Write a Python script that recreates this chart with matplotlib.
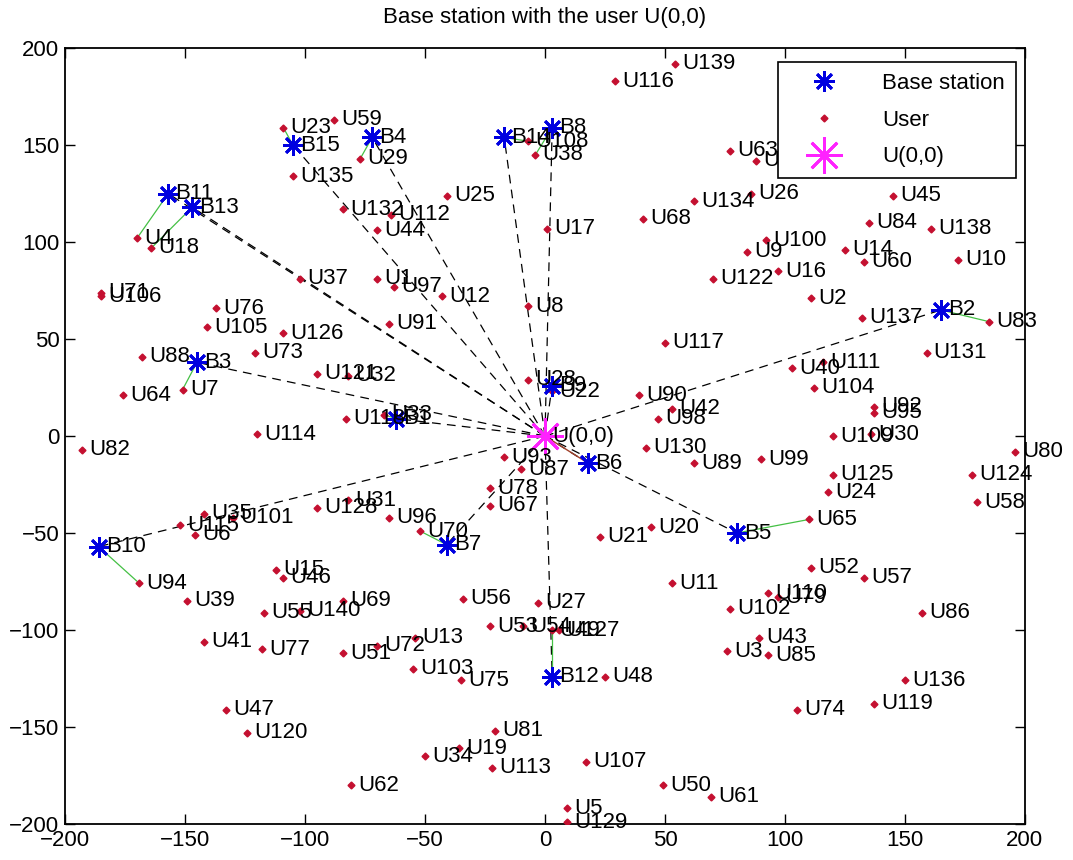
import matplotlib
matplotlib.use('Agg')
import matplotlib.pyplot as plt

plt.rcParams['font.family'] = ['Liberation Sans', 'DejaVu Sans']

# user positions
user_names = ['U139', 'U116', 'U38', 'U108', 'U59', 'U23', 'U29', 'U135', 'U25', 'U132',
              'U112', 'U44', 'U37', 'U1', 'U97', 'U12', 'U17', 'U8', 'U91', 'U126',
              'U73', 'U76', 'U105', 'U88', 'U7', 'U64', 'U82', 'U114', 'U35', 'U115',
              'U6', 'U101', 'U94', 'U39', 'U41', 'U77', 'U55', 'U140', 'U47', 'U120',
              'U15', 'U46', 'U69', 'U51', 'U72', 'U13', 'U103', 'U75', 'U56', 'U27',
              'U53', 'U54', 'U49', 'U127', 'U48', 'U11', 'U102', 'U110', 'U79', 'U43',
              'U3', 'U85', 'U74', 'U107', 'U50', 'U61', 'U5', 'U129', 'U81', 'U19',
              'U34', 'U113', 'U62', 'U52', 'U57', 'U86', 'U136', 'U119', 'U65', 'U21',
              'U20', 'U130', 'U89', 'U99', 'U117', 'U90', 'U42', 'U98', 'U137', 'U83',
              'U131', 'U40', 'U111', 'U104', 'U92', 'U95', 'U109', 'U30', 'U125', 'U24',
              'U80', 'U124', 'U58', 'U2', 'U10', 'U138', 'U84', 'U45', 'U14', 'U60',
              'U100', 'U9', 'U122', 'U16', 'U26', 'U134', 'U68', 'U63', 'U36', 'U66',
              'U33', 'U118', 'U121', 'U32', 'U128', 'U31', 'U96', 'U70', 'U93', 'U87',
              'U78', 'U67', 'U28', 'U22', 'U71', 'U106', 'U4', 'U18']
user_x = [54, 29, -4, -7, -88, -109, -77, -105, -41, -84,
          -64, -70, -102, -70, -63, -43, 1, -7, -65, -109,
          -121, -137, -141, -168, -151, -176, -193, -120, -142, -152,
          -146, -130, -169, -149, -142, -118, -117, -102, -133, -124,
          -112, -109, -84, -84, -70, -54, -55, -35, -34, -3,
          -23, -9, 3, 6, 25, 53, 77, 93, 97, 89,
          76, 93, 105, 17, 49, 69, 9, 9, -21, -36,
          -50, -22, -81, 111, 133, 157, 150, 137, 110, 23,
          44, 42, 62, 90, 50, 39, 53, 47, 132, 185,
          159, 103, 116, 112, 137, 137, 120, 136, 120, 118,
          196, 178, 180, 111, 172, 161, 135, 145, 125, 133,
          92, 84, 70, 97, 86, 62, 41, 77, 88, 116,
          -67, -83, -95, -82, -95, -82, -65, -52, -17, -10,
          -23, -23, -7, 3, -185, -185, -170, -164]
user_y = [192, 183, 145, 152, 163, 159, 143, 134, 124, 117,
          114, 106, 81, 81, 77, 72, 107, 67, 58, 53,
          43, 66, 56, 41, 24, 21, -7, 1, -40, -46,
          -51, -42, -76, -85, -106, -110, -91, -90, -141, -153,
          -69, -73, -85, -112, -108, -104, -120, -126, -84, -86,
          -98, -98, -100, -100, -124, -76, -89, -81, -83, -104,
          -111, -113, -141, -168, -180, -186, -192, -199, -152, -161,
          -165, -171, -180, -68, -73, -91, -126, -138, -43, -52,
          -47, -6, -14, -12, 48, 21, 14, 9, 61, 59,
          43, 35, 38, 25, 15, 12, 0, 1, -20, -29,
          -8, -20, -34, 71, 91, 107, 110, 124, 96, 90,
          101, 95, 81, 85, 125, 121, 112, 147, 142, 136,
          11, 9, 32, 31, -37, -33, -42, -49, -11, -17,
          -27, -36, 29, 23, 74, 72, 102, 97]

# base stations B1..B15
bs_names = ['B1', 'B2', 'B3', 'B4', 'B5', 'B6', 'B7', 'B8', 'B9', 'B10',
            'B11', 'B12', 'B13', 'B14', 'B15']
bs_x = [-62, 165, -145, -72, 80, 18, -41, 3, 3, -186, -157, 3, -147, -17, -105]
bs_y = [9, 65, 38, 154, -50, -14, -56, 159, 26, -57, 125, -124, 118, 154, 150]

# which user each base station serves
served = ['U33', 'U83', 'U7', 'U29', 'U65', None, 'U70', 'U38', 'U22', 'U94',
          'U4', 'U49', 'U18', 'U108', 'U23']

fig = plt.figure(figsize=(10.73, 8.6), dpi=100)
ax = fig.add_axes([0.0606, 0.0419, 0.8946, 0.9021])

# links from U(0,0) to every base station
for i in range(len(bs_names)):
    ax.plot([0, bs_x[i]], [0, bs_y[i]], color='black', lw=0.9, dashes=(7, 5), zorder=1)

# serving links
for i in range(len(bs_names)):
    if served[i] is None:
        ax.plot([0, bs_x[i]], [0, bs_y[i]], '-', color='#a0402a', lw=1.0, zorder=2)
        continue
    j = user_names.index(served[i])
    ax.plot([bs_x[i], user_x[j]], [bs_y[i], user_y[j]], '-', color='#44c044', lw=0.9, zorder=2)

ax.plot(user_x, user_y, 'D', color='#c41030', markersize=3.5, linestyle='none',
        zorder=3, label='User')
ax.plot(bs_x, bs_y, marker=(8, 2, 0), color='#0000e0', markersize=15, markeredgewidth=2.0,
        linestyle='none', zorder=4, label='Base station')
ax.plot([0], [0], marker=(8, 2, 0), color='#ff22ff', markersize=26, markeredgewidth=2.0,
        linestyle='none', zorder=5, label='U(0,0)')

fs = 16
for i in range(len(user_names)):
    ax.text(user_x[i] + 3, user_y[i], user_names[i], fontsize=fs, va='center', ha='left', zorder=6)
for i in range(len(bs_names)):
    ax.text(bs_x[i] + 3, bs_y[i], bs_names[i], fontsize=fs, va='center', ha='left', zorder=6)
ax.text(3, 0, 'U(0,0)', fontsize=fs, va='center', ha='left', zorder=6)

ax.set_xlim(-200, 200)
ax.set_ylim(-200, 200)
ax.set_xticks(range(-200, 201, 50))
ax.set_yticks(range(-200, 201, 50))
ax.tick_params(direction='in', length=7, width=1, top=True, right=True, labelsize=fs, pad=4)
for s in ax.spines.values():
    s.set_linewidth(1.3)
ax.set_title('Base station with the user U(0,0)', fontsize=fs, pad=18)

h, l = ax.get_legend_handles_labels()
order = [1, 0, 2]
leg = ax.legend([h[k] for k in order], [l[k] for k in order], loc='upper right',
                bbox_to_anchor=(0.9906, 0.982), borderaxespad=0, fontsize=fs,
                fancybox=False, framealpha=1, edgecolor='black', borderpad=0.5,
                handletextpad=1.0, labelspacing=0.7, handlelength=3.2)
leg.set_zorder(10)
leg.get_frame().set_linewidth(1.2)

fig.savefig('out.png', dpi=100)
